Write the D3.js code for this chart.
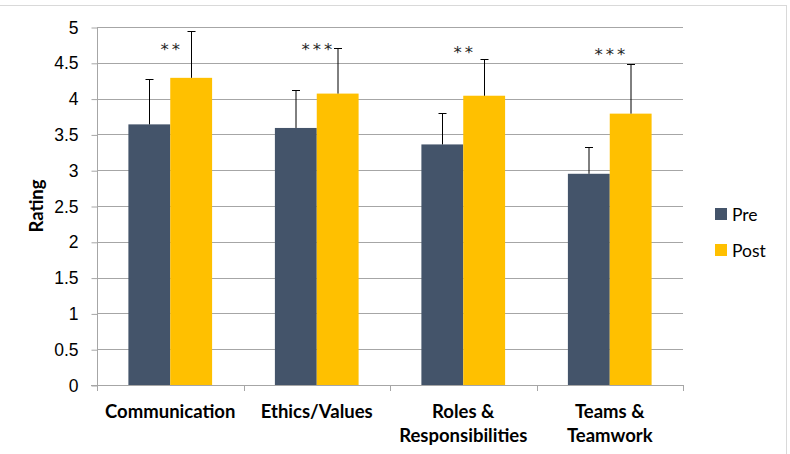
<!DOCTYPE html>
<html>
<head>
<meta charset="utf-8">
<style>
  body { margin: 0; background: #fff; }
  svg { display: block; font-family: Lato, "Open Sans", sans-serif; }
  .grid line { stroke: #a6a6a6; stroke-width: 1; }
  .axis path, .axis line { stroke: #a6a6a6; }
  .axis text { fill: #000; font-size: 17.5px; }
  .cat { font-weight: bold; font-size: 18.5px; }
  .err { stroke: #000; stroke-width: 1; }
</style>
<script src="https://cdn.jsdelivr.net/npm/d3@7/dist/d3.min.js"></script>
</head>
<body>
<script>
  // chart values
  var categories = [["Communication"], ["Ethics/Values"], ["Roles &", "Responsibilities"], ["Teams &", "Teamwork"]];
  var series = ["Pre", "Post"];
  var preMeans = [3.64, 3.59, 3.36, 2.95];
  var postMeans = [4.29, 4.07, 4.04, 3.79];
  var preSD = [0.63, 0.53, 0.44, 0.38];
  var postSD = [0.66, 0.63, 0.52, 0.70];
  var stars = ["**", "***", "**", "***"];
  var starLevel = [4.73, 4.73, 4.69, 4.66];
  var yTicks = [0, 0.5, 1, 1.5, 2, 2.5, 3, 3.5, 4, 4.5, 5];
  var colors = ["#44546a", "#ffc000"];

  var W = 790, H = 454;
  var m = {left: 97, right: 107, top: 27, bottom: 69};

  var svg = d3.select("body").append("svg").attr("width", W).attr("height", H);

  // outer chart frame
  svg.append("rect")
    .attr("x", -2).attr("y", 5.5).attr("width", 788.5).attr("height", 460)
    .attr("fill", "none").attr("stroke", "#d9d9d9");

  var x0 = d3.scaleBand().domain(d3.range(categories.length)).range([m.left, W - m.right]);
  var inner = x0.bandwidth() / 3.5;   // excel gap width 150%
  var x1 = d3.scaleBand().domain(series).range([inner * 0.75, inner * 2.75]);
  var y = d3.scaleLinear().domain([0, 5]).range([H - m.bottom, m.top]);

  var g = svg.append("g");

  g.append("g").attr("class", "grid")
    .selectAll("line").data(yTicks.slice(1)).join("line")
    .attr("x1", m.left).attr("x2", W - m.right)
    .attr("y1", d => Math.round(y(d)) + 0.5).attr("y2", d => Math.round(y(d)) + 0.5);

  var yAxis = g.append("g").attr("class", "axis")
    .attr("transform", "translate(" + (m.left + 0.5) + ",0.5)")
    .call(d3.axisLeft(y).tickValues(yTicks).tickFormat(d3.format("~g"))
      .tickSize(6).tickPadding(13).tickSizeOuter(0));
  yAxis.select(".domain").remove();
  yAxis.append("line").attr("y1", y(0)).attr("y2", y(5)).attr("stroke", "#a6a6a6");

  // x axis with category separators
  var xa = g.append("g").attr("class", "axis");
  xa.append("line").attr("x1", m.left - 6).attr("x2", W - m.right)
    .attr("y1", Math.round(y(0)) + 0.5).attr("y2", Math.round(y(0)) + 0.5);
  xa.selectAll(".sep").data(d3.range(categories.length + 1)).join("line")
    .attr("class", "sep")
    .attr("x1", d => Math.round(m.left + d * x0.step()) + 0.5)
    .attr("x2", d => Math.round(m.left + d * x0.step()) + 0.5)
    .attr("y1", y(0)).attr("y2", y(0) + 6);

  var groups = g.selectAll(".grp").data(categories).join("g")
    .attr("class", "grp")
    .attr("transform", (d, i) => "translate(" + x0(i) + ",0)");

  var rows = [preMeans, postMeans], sds = [preSD, postSD];

  groups.each(function (c, i) {
    var gg = d3.select(this);
    series.forEach(function (s, k) {
      var v = rows[k][i];
      gg.append("rect")
        .attr("x", x1(s)).attr("width", x1.bandwidth())
        .attr("y", y(v)).attr("height", y(0) - y(v))
        .attr("fill", colors[k]);
      var cx = Math.round(x1(s) + x1.bandwidth() / 2) + 0.5;
      var top = Math.round(y(v + sds[k][i])) + 0.5;
      gg.append("line").attr("class", "err")
        .attr("x1", cx).attr("x2", cx).attr("y1", y(v)).attr("y2", top);
      gg.append("line").attr("class", "err")
        .attr("x1", cx - 4).attr("x2", cx + 4).attr("y1", top).attr("y2", top);
    });
    gg.append("text")
      .attr("x", x0.bandwidth() / 2 + 1.5).attr("y", y(starLevel[i]) + 9)
      .attr("text-anchor", "middle").attr("font-family", "DejaVu Sans")
      .attr("font-size", 16.5).attr("letter-spacing", 3).attr("fill", "#222")
      .text(stars[i]);
    var t = gg.append("text").attr("class", "cat").attr("text-anchor", "middle");
    c.forEach(function (line, j) {
      t.append("tspan").attr("x", x0.bandwidth() / 2)
        .attr("y", y(0) + 33 + j * 23.5).text(line);
    });
  });

  // y title
  svg.append("text")
    .attr("transform", "translate(43," + y(2.5) + ") rotate(-90)")
    .attr("text-anchor", "middle").attr("font-weight", "bold").attr("font-size", 18.5)
    .text("Rating");

  // legend
  var leg = svg.append("g").attr("transform", "translate(715,208)");
  leg.selectAll("g").data(series).join("g")
    .attr("transform", (d, i) => "translate(0," + i * 36 + ")")
    .each(function (d, i) {
      var e = d3.select(this);
      e.append("rect").attr("width", 12).attr("height", 12).attr("fill", colors[i]);
      e.append("text").attr("x", 17).attr("y", 12.5).attr("font-size", 17.5).text(d);
    });
</script>
</body>
</html>
